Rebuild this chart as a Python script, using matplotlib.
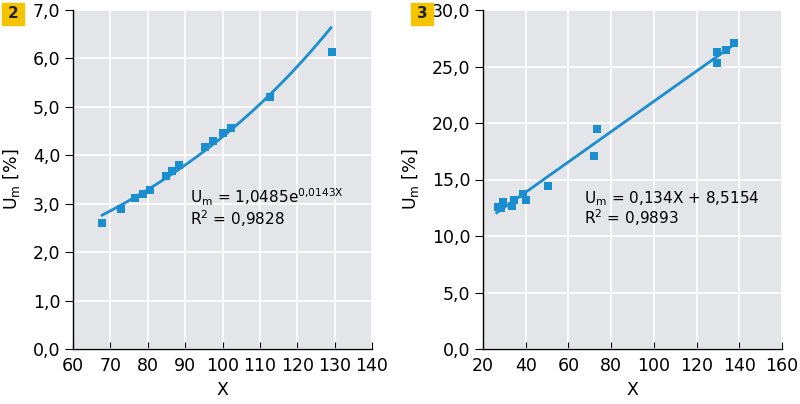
import numpy as np
import matplotlib.pyplot as plt
from matplotlib.patches import Rectangle

# left chart (2): exponential fit
x2 = [67.8, 72.8, 76.6, 78.6, 80.6, 84.8, 86.6, 88.4, 95.3, 97.5, 100.0, 102.3, 112.7, 129.2]
y2 = [2.60, 2.89, 3.11, 3.20, 3.28, 3.58, 3.68, 3.79, 4.18, 4.29, 4.47, 4.56, 5.21, 6.14]
a2, b2 = 1.0485, 0.0143
fit2_range = [67.8, 129.0]

# right chart (3): linear fit
x3 = [27.0, 28.3, 29.5, 33.8, 34.6, 38.6, 40.1, 50.6, 72.0, 73.5, 129.6, 129.6, 133.8, 137.7]
y3 = [12.6, 12.45, 13.0, 12.68, 13.19, 13.69, 13.19, 14.42, 17.11, 19.44, 26.25, 25.34, 26.5, 27.05]
k3, c3 = 0.134, 8.5154
fit3_range = [26.4, 137.7]

xticks2 = [60, 70, 80, 90, 100, 110, 120, 130, 140]
yticks2 = [0, 1, 2, 3, 4, 5, 6, 7]
xticks3 = [20, 40, 60, 80, 100, 120, 140, 160]
yticks3 = [0, 5, 10, 15, 20, 25, 30]

blue = '#1b8ecf'
bg = '#e3e5e8'
plt.rcParams['font.family'] = ['DejaVu Sans']
plt.rcParams['font.size'] = 12.5

fig = plt.figure(figsize=(8, 4.04), dpi=100)
W, H = 800, 404

def setup(ax, xt, yt):
    ax.set_facecolor(bg)
    ax.set_xlim(xt[0], xt[-1])
    ax.set_ylim(yt[0], yt[-1])
    ax.set_xticks(xt)
    ax.set_yticks(yt)
    ax.set_yticklabels([('%.1f' % v).replace('.', ',') for v in yt])
    ax.grid(True, color='white', lw=1.2)
    ax.set_axisbelow(True)
    for s in ['top', 'right']:
        ax.spines[s].set_visible(False)
    ax.spines['left'].set_linewidth(1.0)
    ax.spines['bottom'].set_linewidth(1.0)
    ax.tick_params(axis='x', direction='in', length=5, pad=6)
    ax.tick_params(axis='y', direction='out', length=6, pad=3)
    ax.set_xlabel('X', labelpad=4)
    ax.set_ylabel(r'U$_\mathrm{m}$ [%]', labelpad=8)

ax1 = fig.add_axes([73 / W, 55 / H, 299 / W, 339 / H])
setup(ax1, xticks2, yticks2)
xx = np.linspace(fit2_range[0], fit2_range[1], 200)
ax1.plot(xx, a2 * np.exp(b2 * xx), color=blue, lw=2, zorder=2)
ax1.scatter(x2, y2, marker='s', s=40, color=blue, zorder=3, linewidths=0)
ax1.text(91.3, 3.00, r'U$_\mathrm{m}$ = 1,0485e$^{0{,}0143\mathrm{X}}$', va='baseline', fontsize=11)
ax1.text(91.3, 2.57, r'R$^2$ = 0,9828', va='baseline', fontsize=11)

ax2 = fig.add_axes([483 / W, 55 / H, 299 / W, 339 / H])
setup(ax2, xticks3, yticks3)
xl = np.array(fit3_range)
ax2.plot(xl, k3 * xl + c3, color=blue, lw=2, zorder=2)
ax2.scatter(x3, y3, marker='s', s=40, color=blue, zorder=3, linewidths=0)
ax2.text(67.5, 12.9, r'U$_\mathrm{m}$ = 0,134X + 8,5154', va='baseline', fontsize=11)
ax2.text(67.5, 11.05, r'R$^2$ = 0,9893', va='baseline', fontsize=11)

# numbered badges
for bx, lab in [(2, '2'), (411, '3')]:
    fig.patches.append(Rectangle((bx / W, 1 - 25 / H), 22 / W, 22 / H,
                                 transform=fig.transFigure, color='#f6c300', zorder=5))
    fig.text((bx + 11) / W, 1 - 14 / H, lab, ha='center', va='center',
             fontsize=11, fontweight='bold', color='#222222', zorder=6)

fig.savefig('out.png', dpi=100)
